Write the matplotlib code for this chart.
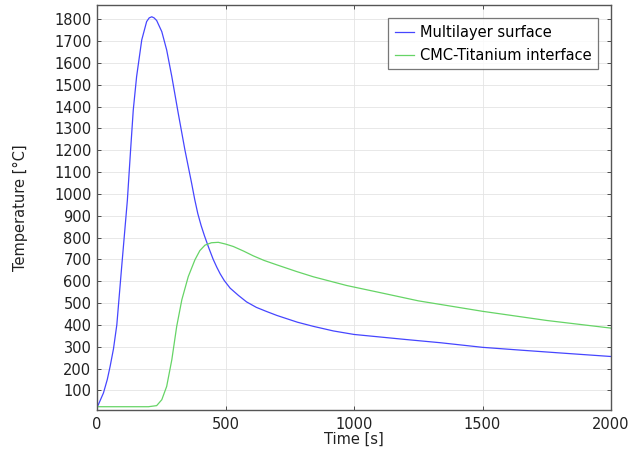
import matplotlib
matplotlib.use("Agg")
import matplotlib.pyplot as plt

# Multilayer surface
t_surface = [0, 5, 25, 40, 51, 64, 77, 96, 118, 130, 141, 154, 174, 193, 203, 213,
             222, 232, 252, 271, 291, 316, 342, 368, 380, 392, 405, 418, 435, 452,
             466, 479, 495, 518, 550, 582, 620, 660, 700, 780, 842, 920, 1000, 1200,
             1337, 1500, 1650, 1805, 2000]
T_surface = [25, 34, 88, 150, 210, 290, 400, 667, 970, 1190, 1384, 1537, 1705, 1789,
             1806, 1811, 1806, 1794, 1743, 1659, 1537, 1369, 1201, 1049, 975, 910,
             855, 808, 752, 700, 664, 634, 603, 568, 535, 505, 480, 461, 443, 412,
             393, 372, 356, 333, 318, 297, 284, 271, 255]

# CMC-Titanium interface
t_interface = [0, 100, 200, 232, 252, 271, 291, 310, 330, 355, 381, 400, 420, 445,
               472, 500, 530, 570, 608, 650, 699, 777, 842, 972, 1100, 1250, 1500,
               1750, 2000]
T_interface = [25, 25, 25, 30, 57, 118, 240, 393, 515, 621, 698, 740, 765, 776,
               778, 770, 759, 738, 716, 695, 675, 644, 620, 580, 548, 510, 462,
               420, 385]

y_ticks = list(range(100, 1900, 100))
x_ticks = [0, 500, 1000, 1500, 2000]

fig = plt.figure(figsize=(6.28, 4.5), dpi=100)
ax = fig.add_axes([0.1545, 0.0889, 0.8185, 0.9])

ax.plot(t_surface, T_surface, color='#4646ff', lw=0.9, label='Multilayer surface')
ax.plot(t_interface, T_interface, color='#66d466', lw=0.9, label='CMC-Titanium interface')

ax.set_xlim(0, 2000)
ax.set_ylim(10, 1865)
ax.set_xticks(x_ticks)
ax.set_yticks(y_ticks)
ax.tick_params(direction='in', top=True, right=True, labelsize=10.5,
               length=3, width=0.6, colors='#333333', labelcolor='#222222')
ax.tick_params(axis='x', pad=5)
ax.tick_params(axis='y', pad=4)
ax.grid(True, color='#e4e4e4', lw=0.6)
ax.set_axisbelow(True)
for s in ax.spines.values():
    s.set_color('#555555')
    s.set_linewidth(1.0)

ax.set_xlabel('Time [s]', fontsize=10.5, labelpad=0, color='#222222')
ax.set_ylabel('Temperature [°C]', fontsize=10.5, labelpad=19, color='#222222')

leg = ax.legend(loc='upper right', fontsize=10.5, frameon=True, fancybox=False,
                borderaxespad=0.9, handlelength=1.3, handletextpad=0.4,
                borderpad=0.45, labelspacing=0.55)
leg.get_frame().set_edgecolor('#555555')
leg.get_frame().set_linewidth(0.9)

fig.savefig('out.png', dpi=100)
